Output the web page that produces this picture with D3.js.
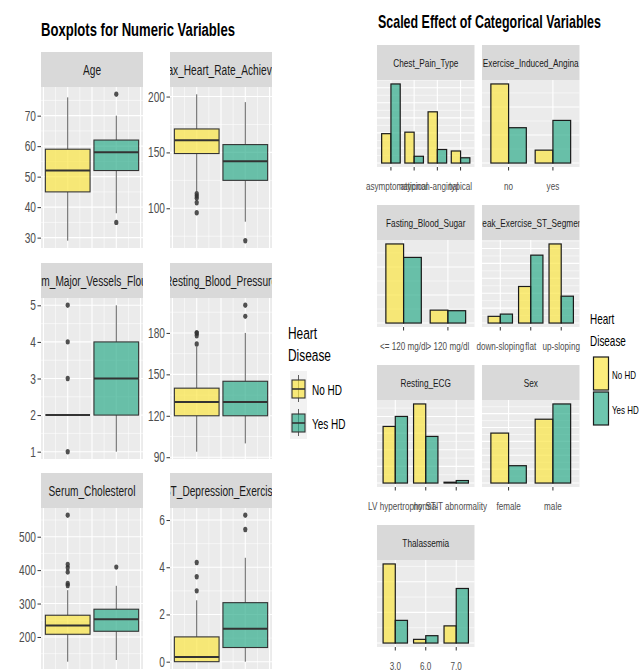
<!DOCTYPE html>
<html>
<head>
<meta charset="utf-8">
<script src="https://cdn.jsdelivr.net/npm/d3@7"></script>
<style>
  html, body { margin: 0; padding: 0; background: #ffffff; }
  svg { display: block; }
  text { font-family: "Liberation Sans", Arial, Helvetica, sans-serif; }
</style>
</head>
<body>
<svg id="chart" width="640" height="671"></svg>
<script>
// ---- data -------------------------------------------------------------
const hdGroups = ["No HD", "Yes HD"];
const hdFills = ["#fbe544", "#30ad8c"];

// numeric variables: box stats [lower whisker, Q1, median, Q3, upper whisker]
const numVars = ["Age", "Max_Heart_Rate_Achieved", "Num_Major_Vessels_Flouro",
                 "Resting_Blood_Pressure", "Serum_Cholesterol", "ST_Depression_Exercise"];
const boxNoHD  = [[29, 45, 52, 59, 76], [115, 149, 161, 171, 202], [2, 2, 2, 2, 2],
                  [94, 120, 130, 140, 170], [126, 208, 234, 265, 340], [0, 0, 0.2, 1.05, 2.6]];
const boxYesHD = [[38, 52, 58, 62, 70], [88, 125, 142, 157, 195], [1, 2, 3, 4, 5],
                  [100, 120, 130, 145, 180], [131, 217, 253, 283, 353], [0, 0.6, 1.4, 2.5, 4.4]];
const outNoHD  = [[], [113, 111, 109, 105, 96], [1, 3, 4, 5],
                  [172, 178, 180, 180], [564, 417, 407, 394, 360, 354], [4.2, 3.6, 3.0]];
const outYesHD = [[77, 35], [71], [], [192, 200], [409], [6.2, 5.6]];
const numTicks = [[30, 40, 50, 60, 70], [100, 150, 200], [1, 2, 3, 4, 5],
                  [90, 120, 150, 180], [200, 300, 400, 500], [0, 2, 4, 6]];

// categorical variables: counts per level and heart disease group
const catVars = ["Chest_Pain_Type", "Exercise_Induced_Angina", "Fasting_Blood_Sugar",
                 "Peak_Exercise_ST_Segment", "Resting_ECG", "Sex", "Thalassemia"];
const catLevels = [["asymptomatic", "atypical", "non-anginal", "typical"], ["no", "yes"],
                   ["<= 120 mg/dl", "> 120 mg/dl"], ["down-sloping", "flat", "up-sloping"],
                   ["LV hypertrophy", "normal", "ST-T abnormality"], ["female", "male"],
                   ["3.0", "6.0", "7.0"]];
const countNoHD  = [[39, 41, 68, 16], [141, 23], [141, 23], [9, 49, 106], [68, 95, 1], [72, 92], [129, 6, 28]];
const countYesHD = [[105, 9, 18, 7], [63, 76], [117, 22], [12, 91, 36], [80, 56, 3], [25, 114], [37, 12, 89]];

// ---- helpers ----------------------------------------------------------
const svg = d3.select("#chart");
const SX = 0.7;   // condensed glyph width

function txt(g, x, y, str, o = {}) {
  return g.append("text")
    .attr("transform", `translate(${x},${y}) scale(${SX},1)`)
    .attr("text-anchor", o.anchor || "start")
    .attr("font-size", o.size || 12)
    .attr("font-weight", o.weight || "normal")
    .attr("fill", o.color || "#1a1a1a")
    .text(str);
}

const PANEL_BG = "#ebebeb", STRIP_BG = "#d9d9d9";
let clipId = 0;

function strip(g, x, y, w, h, label, size) {
  const id = "clip" + (clipId++);
  g.append("clipPath").attr("id", id)
    .append("rect").attr("x", x).attr("y", y).attr("width", w).attr("height", h);
  g.append("rect").attr("x", x).attr("y", y).attr("width", w).attr("height", h).attr("fill", STRIP_BG);
  const s = g.append("g").attr("clip-path", `url(#${id})`);
  txt(s, x + w / 2, y + h / 2 + size * 0.36, label, { anchor: "middle", size: size, color: "#1a1a1a" });
}

function hGrid(g, x0, x1, y, major) {
  g.append("line").attr("x1", x0).attr("x2", x1).attr("y1", y).attr("y2", y)
    .attr("stroke", "#ffffff").attr("stroke-width", major ? 1.1 : 0.55);
}
function vGrid(g, x, y0, y1, major) {
  g.append("line").attr("x1", x).attr("x2", x).attr("y1", y0).attr("y2", y1)
    .attr("stroke", "#ffffff").attr("stroke-width", major ? 1.1 : 0.55);
}

// ---- left: boxplots ---------------------------------------------------
const left = svg.append("g");
txt(left, 41, 36, "Boxplots for Numeric Variables", { size: 18.7, weight: "bold", color: "#000" });

const bColX = [41, 170], bW = 102;
const bRowY = [52, 263, 473], bStripH = 35, bPlotH = 161;

numVars.forEach((name, i) => {
  const col = i % 2, row = Math.floor(i / 2);
  const x0 = bColX[col], sy = bRowY[row], py = sy + bStripH;
  const g = left.append("g");

  const vals = boxNoHD[i].concat(boxYesHD[i], outNoHD[i], outYesHD[i]);
  const [lo, hi] = d3.extent(vals);
  const pad = (hi - lo) * 0.05;
  const y = d3.scaleLinear().domain([lo - pad, hi + pad]).range([py + bPlotH, py]);
  const x = d3.scaleLinear().domain([0.45, 2.55]).range([x0, x0 + bW]);

  g.append("rect").attr("x", x0).attr("y", py).attr("width", bW).attr("height", bPlotH).attr("fill", PANEL_BG);
  const ticks = numTicks[i];
  const step = ticks[1] - ticks[0];
  // minor then major horizontal grid
  d3.range(ticks[0] - step / 2, hi + pad + step, step).forEach(v => {
    if (v > y.domain()[0] && v < y.domain()[1]) hGrid(g, x0, x0 + bW, y(v), false);
  });
  ticks.forEach(v => hGrid(g, x0, x0 + bW, y(v), true));
  [0.75, 1.25, 1.75, 2.25].forEach(v => vGrid(g, x(v), py, py + bPlotH, false));
  [0.5, 1, 1.5, 2, 2.5].forEach(v => vGrid(g, x(v), py, py + bPlotH, true));

  strip(g, x0, sy, bW, bStripH, name, 14.5);

  // y axis
  const ax = d3.axisLeft(y).tickValues(ticks).tickSize(3.5).tickPadding(2).tickFormat(d3.format("d"));
  const axG = g.append("g").attr("transform", `translate(${x0},0)`).call(ax);
  axG.select(".domain").remove();
  axG.selectAll(".tick line").attr("stroke", "#333333").attr("stroke-width", 1);
  axG.selectAll(".tick text").remove();
  ticks.forEach(v => txt(g, x0 - 5, y(v) + 5, String(v), { anchor: "end", size: 14.5, color: "#4d4d4d" }));

  // boxes
  [boxNoHD[i], boxYesHD[i]].forEach((st, k) => {
    const cx = x(k + 1), hw = (x(1.46) - x(1)) ;
    const [wl, q1, md, q3, wh] = st;
    g.append("line").attr("x1", cx).attr("x2", cx).attr("y1", y(wh)).attr("y2", y(q3))
      .attr("stroke", "#4d4d4d").attr("stroke-width", 0.9);
    g.append("line").attr("x1", cx).attr("x2", cx).attr("y1", y(q1)).attr("y2", y(wl))
      .attr("stroke", "#4d4d4d").attr("stroke-width", 0.9);
    g.append("rect").attr("x", cx - hw).attr("width", hw * 2)
      .attr("y", y(q3)).attr("height", Math.max(0, y(q1) - y(q3)))
      .attr("fill", hdFills[k]).attr("fill-opacity", 0.7)
      .attr("stroke", "#333333").attr("stroke-width", 1.1);
    g.append("line").attr("x1", cx - hw).attr("x2", cx + hw).attr("y1", y(md)).attr("y2", y(md))
      .attr("stroke", "#333333").attr("stroke-width", 2);
    const outs = k === 0 ? outNoHD[i] : outYesHD[i];
    outs.forEach(v => g.append("ellipse").attr("cx", cx).attr("cy", y(v)).attr("rx", 2.1).attr("ry", 2.7)
      .attr("fill", "#333333").attr("fill-opacity", 0.85));
  });
});

// left legend
txt(left, 288, 339, "Heart", { size: 17, color: "#000" });
txt(left, 288, 361, "Disease", { size: 17, color: "#000" });
const keyY = [371, 405];
hdGroups.forEach((lab, k) => {
  const ky = keyY[k];
  left.append("rect").attr("x", 290).attr("y", ky).attr("width", 17).attr("height", 34).attr("fill", "#f2f2f2");
  left.append("line").attr("x1", 298.5).attr("x2", 298.5).attr("y1", ky + 4).attr("y2", ky + 31)
    .attr("stroke", "#4d4d4d").attr("stroke-width", 0.9);
  left.append("rect").attr("x", 292).attr("y", ky + 9).attr("width", 13).attr("height", 18)
    .attr("fill", hdFills[k]).attr("fill-opacity", 0.7).attr("stroke", "#333").attr("stroke-width", 1.1);
  left.append("line").attr("x1", 292).attr("x2", 305).attr("y1", ky + 18).attr("y2", ky + 18)
    .attr("stroke", "#333").attr("stroke-width", 1.6);
  txt(left, 312, ky + 24, lab, { size: 14.3, color: "#000" });
});

// ---- right: bar charts ------------------------------------------------
const right = svg.append("g");
txt(right, 378, 28, "Scaled Effect of Categorical Variables", { size: 17.8, weight: "bold", color: "#000" });

const cColX = [377, 482], cW = 97.5;
const cRowY = [45, 205, 365, 525], cStripH = 35, cPlotH = 87;

catVars.forEach((name, i) => {
  const col = i % 2, row = Math.floor(i / 2);
  const x0 = cColX[col], sy = cRowY[row], py = sy + cStripH;
  const g = right.append("g");
  const levels = catLevels[i];
  const n = levels.length;
  const maxV = d3.max(countNoHD[i].concat(countYesHD[i]));
  const y = d3.scaleLinear().domain([-0.05 * maxV, 1.05 * maxV]).range([py + cPlotH, py]);
  const x = d3.scaleLinear().domain([0.4, n + 0.6]).range([x0, x0 + cW]);

  g.append("rect").attr("x", x0).attr("y", py).attr("width", cW).attr("height", cPlotH).attr("fill", PANEL_BG);
  const ticks = y.ticks(4);
  const step = ticks[1] - ticks[0];
  d3.range(ticks[0] - step / 2, 1.05 * maxV, step).forEach(v => {
    if (v > y.domain()[0]) hGrid(g, x0, x0 + cW, y(v), false);
  });
  ticks.forEach(v => hGrid(g, x0, x0 + cW, y(v), true));
  levels.forEach((l, j) => vGrid(g, x(j + 1), py, py + cPlotH, true));

  strip(g, x0, sy, cW, cStripH, name, 11.8);

  const bw = 0.4;
  levels.forEach((l, j) => {
    [countNoHD[i][j], countYesHD[i][j]].forEach((v, k) => {
      const bx = x(j + 1 - bw + k * bw);
      g.append("rect").attr("x", bx).attr("width", x(1 + bw) - x(1))
        .attr("y", y(v)).attr("height", y(0) - y(v))
        .attr("fill", hdFills[k]).attr("fill-opacity", 0.7)
        .attr("stroke", "#1a1a1a").attr("stroke-width", 1.2);
    });
    g.append("line").attr("x1", x(j + 1)).attr("x2", x(j + 1))
      .attr("y1", py + cPlotH).attr("y2", py + cPlotH + 3.5)
      .attr("stroke", "#333").attr("stroke-width", 1);
    txt(g, x(j + 1), py + cPlotH + 23, l, { anchor: "middle", size: 11.6, color: "#4d4d4d" });
  });
});

// right legend
txt(right, 590, 324, "Heart", { size: 14.2, color: "#000" });
txt(right, 590, 346, "Disease", { size: 14.2, color: "#000" });
const rKeyY = [357, 392];
hdGroups.forEach((lab, k) => {
  right.append("rect").attr("x", 593.5).attr("y", rKeyY[k]).attr("width", 15).attr("height", 33)
    .attr("fill", hdFills[k]).attr("fill-opacity", 0.7)
    .attr("stroke", "#1a1a1a").attr("stroke-width", 1.2);
  txt(right, 612, rKeyY[k] + 22, lab, { size: 11.4, color: "#000" });
});
</script>
</body>
</html>
